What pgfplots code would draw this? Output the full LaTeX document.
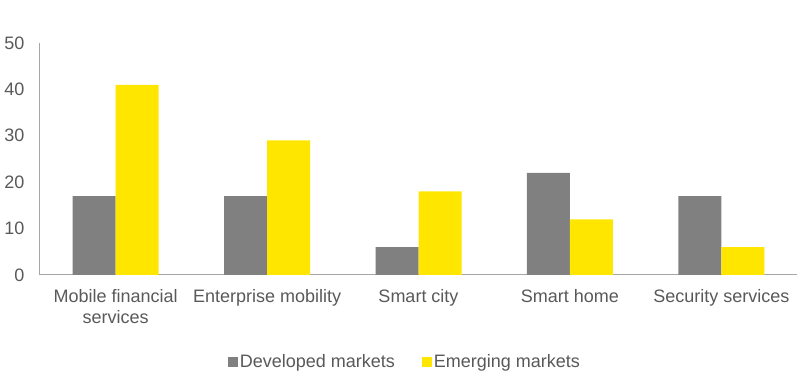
\documentclass[border=0pt]{standalone}
\usepackage{fontspec}
\setmainfont{Liberation Sans}
\usepackage{pgfplots}
\pgfplotsset{compat=1.18}
\definecolor{devgray}{HTML}{808080}
\definecolor{eyyellow}{HTML}{FFE600}
\definecolor{txtgray}{HTML}{595959}
\definecolor{axgray}{HTML}{A6A6A6}
\begin{document}
\begin{tikzpicture}
\path[use as bounding box] (0,0) rectangle (800pt,390pt);
\begin{axis}[
  at={(40pt,115pt)}, anchor=south west,
  scale only axis, width=757pt, height=232pt,
  ybar=0pt, bar width=43pt,
  xmin=-0.5, xmax=4.5, ymin=0, ymax=50,
  xtick={0,1,2,3,4},
  xticklabels={{Mobile financial\\services},{Enterprise mobility},{Smart city},{Smart home},{Security services}},
  ytick={0,10,20,30,40,50},
  axis x line*=bottom, axis y line*=left,
  axis line style={axgray, line width=1pt},
  x axis line style={-}, y axis line style={-},
  major tick length=0pt,
  tick style={draw=none},
  /pgf/number format/assume math mode=true,
  font=\fontsize{18pt}{21pt}\selectfont,
  ticklabel style={text=txtgray, font=\fontsize{18pt}{21pt}\selectfont},
  xticklabel style={align=center, yshift=-11pt},
  yticklabel style={xshift=-12pt},
  legend style={at={(0.482,-0.375)}, anchor=center, draw=none, legend columns=2,
    font=\fontsize{18pt}{21pt}\selectfont, text=txtgray,
    /tikz/every even column/.append style={column sep=26pt},
    nodes={inner xsep=1.5pt}},
  legend image code/.code={\fill[#1] (0pt,-5pt) rectangle (10pt,5pt);},
]
\addplot[fill=devgray, draw=none] coordinates {(0,17) (1,17) (2,6) (3,22) (4,17)};
\addplot[fill=eyyellow, draw=none] coordinates {(0,41) (1,29) (2,18) (3,12) (4,6)};
\legend{Developed markets, Emerging markets}
\end{axis}
\end{tikzpicture}
\end{document}
